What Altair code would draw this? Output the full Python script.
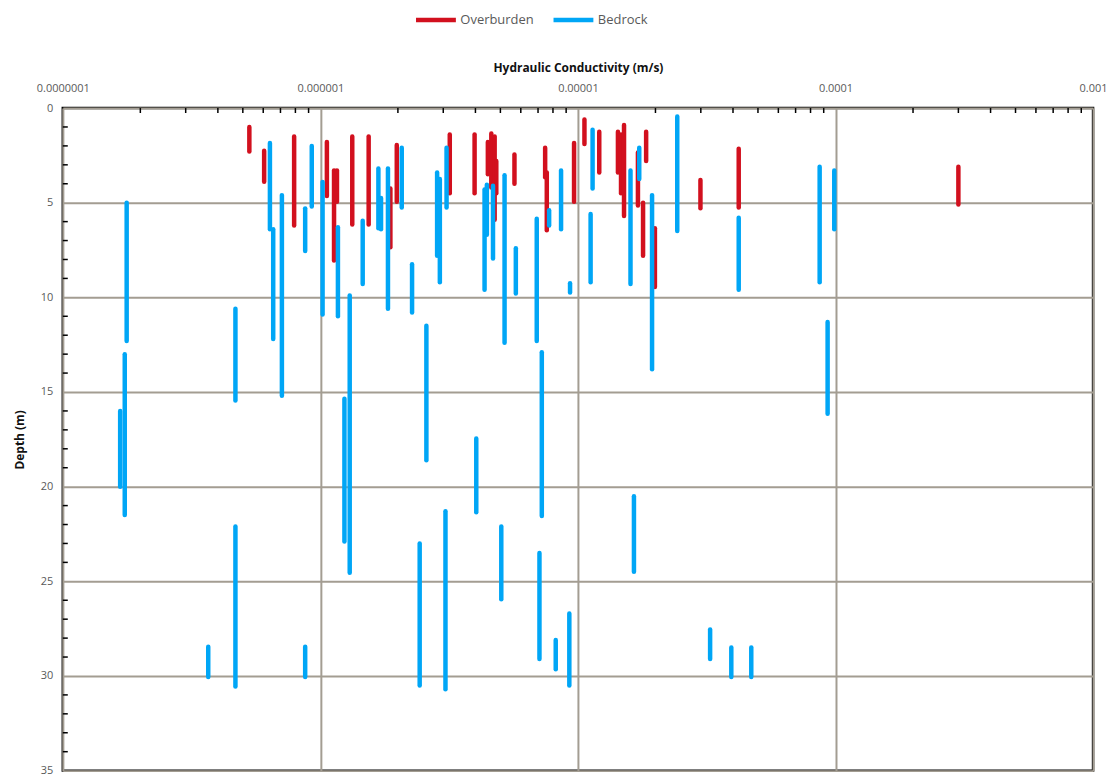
import altair as alt
import pandas as pd

# ---- data ----
series_names = ["Overburden", "Bedrock"]
series_colors = ["#D2101E", "#00A6F6"]

bed_k = [1.77e-7, 1.74e-7, 1.67e-7, 3.67e-7, 4.68e-7, 4.68e-7, 6.37e-7, 6.56e-7, 7.09e-7,
         8.73e-7, 8.73e-7, 9.26e-7, 1.02e-6, 1.17e-6, 1.24e-6, 1.30e-6, 1.46e-6, 1.68e-6,
         1.72e-6, 1.83e-6, 2.07e-6, 2.27e-6, 2.43e-6, 2.58e-6, 2.84e-6, 2.91e-6, 3.06e-6,
         3.09e-6, 4.03e-6, 4.34e-6, 4.43e-6, 4.68e-6, 5.04e-6, 5.19e-6, 5.74e-6, 6.92e-6,
         7.09e-6, 7.24e-6, 7.73e-6, 8.20e-6, 8.60e-6, 9.26e-6, 9.32e-6, 1.12e-5, 1.14e-5,
         1.60e-5, 1.65e-5, 1.73e-5, 1.94e-5, 2.43e-5, 3.26e-5, 3.94e-5, 4.21e-5, 4.71e-5,
         8.68e-5, 9.32e-5, 9.89e-5]
bed_top = [5.0, 13.0, 16.0, 28.45, 10.6, 22.1, 1.85, 6.4, 4.6,
           5.3, 28.45, 2.0, 3.9, 6.3, 15.35, 9.9, 5.95, 3.2,
           4.75, 3.2, 2.1, 8.25, 23.0, 11.5, 3.4, 3.75, 21.3,
           2.1, 17.45, 4.3, 4.05, 4.1, 22.1, 3.55, 7.4, 5.85,
           23.5, 12.9, 5.4, 28.1, 3.3, 26.7, 9.25, 5.6, 1.15,
           3.3, 20.5, 2.1, 4.6, 0.45, 27.55, 28.5, 5.8, 28.5,
           3.1, 11.3, 3.3]
bed_bottom = [12.3, 21.5, 20.0, 30.05, 15.45, 30.55, 6.4, 12.2, 15.2,
              7.55, 30.05, 5.2, 10.9, 11.0, 22.9, 24.55, 9.3, 6.35,
              6.4, 10.6, 5.25, 10.8, 30.5, 18.6, 7.8, 9.2, 30.7,
              5.25, 21.35, 9.6, 6.7, 7.95, 25.95, 12.4, 9.8, 12.3,
              29.1, 21.55, 6.2, 29.65, 6.4, 30.5, 9.75, 9.2, 4.25,
              9.3, 24.5, 3.75, 13.8, 6.5, 29.1, 30.05, 9.6, 30.05,
              9.2, 16.15, 6.4]

ob_k = [5.30e-7, 6.05e-7, 7.91e-7, 1.06e-6, 1.13e-6, 1.16e-6, 1.33e-6, 1.54e-6,
        1.87e-6, 1.98e-6, 3.18e-6, 3.97e-6, 4.47e-6, 4.61e-6, 4.75e-6, 4.82e-6,
        5.67e-6, 7.46e-6, 7.57e-6, 9.66e-6, 1.06e-5, 1.21e-5, 1.43e-5, 1.47e-5,
        1.51e-5, 1.71e-5, 1.79e-5, 1.84e-5, 1.99e-5, 2.99e-5, 4.21e-5, 3.00e-4]
ob_top = [1.0, 2.26, 1.5, 1.8, 3.3, 3.3, 1.5, 1.5,
          4.25, 1.95, 1.4, 1.4, 1.8, 1.35, 1.5, 2.8,
          2.45, 2.1, 3.4, 1.85, 0.6, 1.25, 1.25, 1.4,
          0.9, 2.35, 5.0, 1.25, 6.35, 3.8, 2.15, 3.1]
ob_bottom = [2.3, 3.9, 6.2, 4.65, 8.05, 4.95, 6.15, 6.15,
             7.35, 4.95, 4.5, 4.5, 3.5, 4.2, 5.9, 4.5,
             4.0, 3.65, 6.45, 4.95, 1.9, 3.4, 3.4, 4.5,
             5.7, 5.15, 7.8, 2.8, 9.45, 5.3, 5.25, 5.1]

x_major = [1e-7, 1e-6, 1e-5, 1e-4, 1e-3]
y_major = [0, 5, 10, 15, 20, 25, 30, 35]
x_minor_mantissas = [2, 3, 4, 5, 6, 7, 8, 9]
x_minor_decades = [1e-7, 1e-6, 1e-5, 1e-4]
y_minor = [d for d in range(1, 35) if d % 5 != 0]
x_minor = [m * d for d in x_minor_decades for m in x_minor_mantissas]

df = pd.concat([
    pd.DataFrame({"K": ob_k, "top": ob_top, "bottom": ob_bottom, "type": "Overburden"}),
    pd.DataFrame({"K": bed_k, "top": bed_top, "bottom": bed_bottom, "type": "Bedrock"}),
], ignore_index=True)

FONT = "Open Sans"
x_scale = alt.Scale(type="log", domain=[1e-7, 1e-3], nice=False)
y_scale = alt.Scale(domain=[0, 35], reverse=True, nice=False, zero=False)
grid_color = "#A39D92"

segs = alt.Chart(df).mark_rule(strokeWidth=4.5, strokeCap="round").encode(
    x=alt.X("K:Q", scale=x_scale,
            axis=alt.Axis(orient="top", values=x_major, format=".7~f",
                          title="Hydraulic Conductivity (m/s)",
                          grid=True, gridColor=grid_color, gridWidth=2,
                          ticks=False, tickSize=0, domain=False,
                          labelPadding=15, titlePadding=8, labelFlush=False)),
    y=alt.Y("top:Q", scale=y_scale,
            axis=alt.Axis(orient="left", values=y_major, title="Depth (m)",
                          grid=True, gridColor=grid_color, gridWidth=2,
                          ticks=False, tickSize=0, domain=False,
                          labelPadding=10, titlePadding=14, labelFlush=False)),
    y2="bottom:Q",
    color=alt.Color("type:N", scale=alt.Scale(domain=series_names, range=series_colors),
                    legend=alt.Legend(title=None, orient="none", legendX=352, legendY=-111,
                                      direction="horizontal", symbolType="stroke",
                                      symbolSize=1600, symbolStrokeWidth=4.5,
                                      labelFontSize=13, labelColor="#595959", labelFont=FONT,
                                      labelOffset=2, columnPadding=10, padding=0)),
)

xt = alt.Chart(pd.DataFrame({"K": x_minor})).mark_rule(color="black", strokeWidth=1.5).encode(
    x=alt.X("K:Q", scale=x_scale),
    y=alt.value(0), y2=alt.value(5),
)
yt = alt.Chart(pd.DataFrame({"top": y_minor})).mark_rule(color="black", strokeWidth=1.5).encode(
    y=alt.Y("top:Q", scale=y_scale),
    x=alt.value(0), x2=alt.value(5),
)

chart = alt.layer(segs, xt, yt).properties(
    width=1034, height=665,
    autosize=alt.AutoSizeParams(type="none"),
    padding={"left": 55, "top": 99, "right": 16, "bottom": 6},
).configure_view(
    stroke="black", strokeWidth=2.5
).configure_axis(
    labelFont=FONT, labelFontSize=11, labelColor="#595959",
    titleFont=FONT, titleFontSize=12, titleFontWeight="bold", titleColor="#111111",
)

chart.save("out.html", embed_options={"renderer": "svg", "actions": False})
